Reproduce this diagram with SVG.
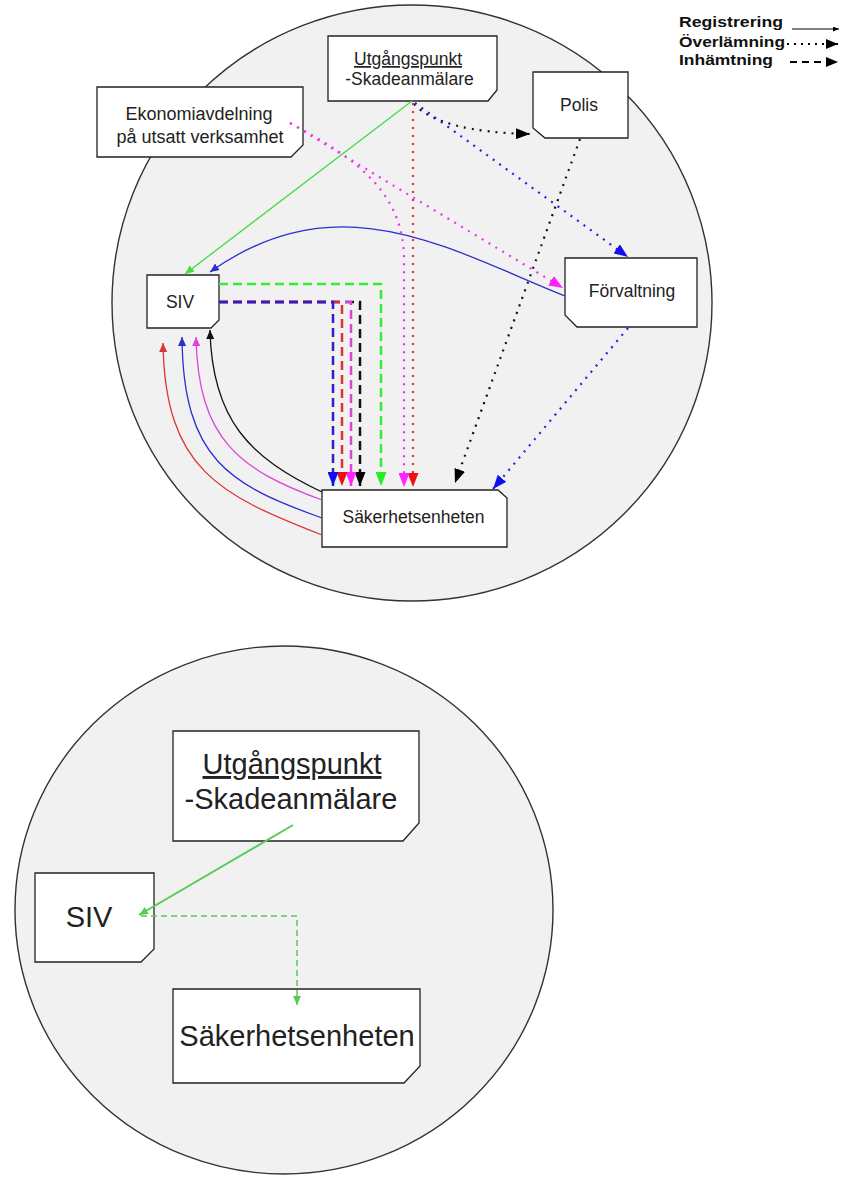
<svg xmlns="http://www.w3.org/2000/svg" width="843" height="1180" viewBox="0 0 843 1180">
<style>
text{font-family:"Liberation Sans",Arial,sans-serif;fill:#222}
.bg{fill:#f1f1f1;stroke:#333;stroke-width:1.4}
.box{fill:#fff;stroke:#222;stroke-width:1.3}
.t{font-size:17.5px;text-anchor:middle}
.tb{font-size:29px;text-anchor:middle}
.leg{font-size:15.5px;font-weight:bold;fill:#111}
.c{fill:none}
.sol{stroke-width:1.3}
.dot{stroke-width:2.2;stroke-dasharray:2 6}
.dash{stroke-width:2.5;stroke-dasharray:9 5}
</style>
<defs>
<marker id="sG" markerUnits="userSpaceOnUse" markerWidth="9" markerHeight="8" refX="9" refY="4" orient="auto"><path d="M0,0 L9,4 L0,8 z" fill="#44dd44"/></marker>
<marker id="sB" markerUnits="userSpaceOnUse" markerWidth="9" markerHeight="8" refX="9" refY="4" orient="auto"><path d="M0,0 L9,4 L0,8 z" fill="#2e2ed0"/></marker>
<marker id="sR" markerUnits="userSpaceOnUse" markerWidth="9" markerHeight="8" refX="9" refY="4" orient="auto"><path d="M0,0 L9,4 L0,8 z" fill="#dd3333"/></marker>
<marker id="sM" markerUnits="userSpaceOnUse" markerWidth="9" markerHeight="8" refX="9" refY="4" orient="auto"><path d="M0,0 L9,4 L0,8 z" fill="#e040e0"/></marker>
<marker id="sK" markerUnits="userSpaceOnUse" markerWidth="9" markerHeight="8" refX="9" refY="4" orient="auto"><path d="M0,0 L9,4 L0,8 z" fill="#111"/></marker>
<marker id="lG" markerUnits="userSpaceOnUse" markerWidth="14" markerHeight="11" refX="14" refY="5.5" orient="auto"><path d="M0,0 L14,5.5 L0,11 z" fill="#22ee22"/></marker>
<marker id="lB" markerUnits="userSpaceOnUse" markerWidth="14" markerHeight="11" refX="14" refY="5.5" orient="auto"><path d="M0,0 L14,5.5 L0,11 z" fill="#1010ee"/></marker>
<marker id="lR" markerUnits="userSpaceOnUse" markerWidth="14" markerHeight="11" refX="14" refY="5.5" orient="auto"><path d="M0,0 L14,5.5 L0,11 z" fill="#ee1111"/></marker>
<marker id="lM" markerUnits="userSpaceOnUse" markerWidth="14" markerHeight="11" refX="14" refY="5.5" orient="auto"><path d="M0,0 L14,5.5 L0,11 z" fill="#ff22ff"/></marker>
<marker id="lK" markerUnits="userSpaceOnUse" markerWidth="14" markerHeight="11" refX="14" refY="5.5" orient="auto"><path d="M0,0 L14,5.5 L0,11 z" fill="#000"/></marker>
<marker id="gS" markerUnits="userSpaceOnUse" markerWidth="9" markerHeight="8" refX="9" refY="4" orient="auto"><path d="M0,0 L9,4 L0,8 z" fill="#55cc55"/></marker>
<marker id="legA" markerUnits="userSpaceOnUse" markerWidth="6" markerHeight="5" refX="6" refY="2.5" orient="auto"><path d="M0,0 L6,2.5 L0,5 z" fill="#000"/></marker>
<marker id="legB" markerUnits="userSpaceOnUse" markerWidth="12" markerHeight="10" refX="12" refY="5" orient="auto"><path d="M0,0 L12,5 L0,10 z" fill="#000"/></marker>
</defs>
<rect width="843" height="1180" fill="#fff"/>

<g id="circles">
<ellipse class="bg" cx="412" cy="303" rx="300" ry="298"/>
<ellipse class="bg" cx="284" cy="910" rx="269" ry="264"/>
</g>

<g id="legend">
<text class="leg" x="679" y="27" textLength="104" lengthAdjust="spacingAndGlyphs">Registrering</text>
<text class="leg" x="679" y="47" textLength="106" lengthAdjust="spacingAndGlyphs">Överlämning</text>
<text class="leg" x="679" y="65" textLength="94" lengthAdjust="spacingAndGlyphs">Inhämtning</text>
<path d="M792,29 L839,29" stroke="#000" stroke-width="1" marker-end="url(#legA)"/>
<path d="M787,44 L838,44" stroke="#000" stroke-width="2" stroke-dasharray="2 5" marker-end="url(#legB)"/>
<path d="M790,62 L838,62" stroke="#000" stroke-width="2" stroke-dasharray="7 5" marker-end="url(#legB)"/>
</g>

<g id="top-utgangspunkt">
<path class="box" d="M328,36 H497 V90 L488,101 H328 Z"/>
<text class="t" x="408" y="65" text-decoration="underline">Utgångspunkt</text>
<text class="t" x="409.5" y="85">-Skadeanmälare</text>
</g>
<g id="top-ekonomi">
<path class="box" d="M97,87 H303 V145 L291,157 H97 Z"/>
<text class="t" x="199" y="120" style="font-size:18px">Ekonomiavdelning</text>
<text class="t" x="200" y="143" style="font-size:18px">på utsatt verksamhet</text>
</g>
<g id="top-polis">
<path class="box" d="M533,72 H628 V138 H545 L533,128 Z"/>
<text class="t" x="579" y="111">Polis</text>
</g>
<g id="top-forvaltning">
<path class="box" d="M565,258 H697 V327 H577 L565,315 Z"/>
<text class="t" x="632" y="297">Förvaltning</text>
</g>
<g id="top-siv">
<path class="box" d="M147,275 H219 V320 L211,328 H147 Z"/>
<text class="t" x="180" y="308">SIV</text>
</g>
<g id="top-sakerhet">
<path class="box" d="M322,490 H498 L507,498 V547 H322 Z"/>
<text class="t" x="413.5" y="523">Säkerhetsenheten</text>
</g>

<g id="bottom-utgangspunkt">
<path class="box" d="M173,731 H419 V823 L403,841 H173 Z"/>
<text class="tb" x="292" y="774" text-decoration="underline">Utgångspunkt</text>
<text class="tb" x="291" y="809">-Skadeanmälare</text>
</g>
<g id="bottom-siv">
<path class="box" d="M35,873 H154 V949 L141,962 H35 Z"/>
<text class="tb" x="89" y="927">SIV</text>
</g>
<g id="bottom-sakerhet">
<path class="box" d="M173,989 H420 V1066 L404,1083 H173 Z"/>
<text class="tb" x="297" y="1046">Säkerhetsenheten</text>
</g>

<g id="connectors">
<path class="c sol" d="M412,101 L185,274" stroke="#44dd44" marker-end="url(#sG)"/>
<path class="c sol" d="M565,296 C450,250 340,180 210,272" stroke="#2e2ed0" marker-end="url(#sB)"/>
<path class="c dot" d="M414,104 Q440,132 530,134" stroke="#111" marker-end="url(#lK)"/>
<path class="c dot" d="M415,103 L628,257" stroke="#2222dd" marker-end="url(#lB)"/>
<path class="c dot" d="M413,103 L413,487" stroke="#e53333" marker-end="url(#lR)"/>
<path class="c dot" d="M290,123 L563,288" stroke="#ee33ee" marker-end="url(#lM)"/>
<path class="c dot" d="M290,123 C360,160 404,195 404,260 L404,487" stroke="#ee33ee" marker-end="url(#lM)"/>
<path class="c dot" d="M580,139 L455,483" stroke="#111" marker-end="url(#lK)"/>
<path class="c dot" d="M628,328 L493,489" stroke="#2222dd" marker-end="url(#lB)"/>
<path class="c dash" d="M219,284 L381,284 L381,486" stroke="#33ee33" marker-end="url(#lG)"/>
<path class="c dash" d="M219,302 L360,302 L360,486" stroke="#111" marker-end="url(#lK)"/>
<path class="c dash" d="M219,302 L351,302 L351,486" stroke="#e040e0" marker-end="url(#lM)"/>
<path class="c dash" d="M219,302 L342,302 L342,486" stroke="#dd3333" marker-end="url(#lR)"/>
<path class="c dash" d="M219,302 L333,302 L333,486" stroke="#2a1fc8" marker-end="url(#lB)"/>
<path class="c sol" d="M322,492 C250,458 212,420 210,330" stroke="#111" marker-end="url(#sK)"/>
<path class="c sol" d="M322,500 C240,470 198,440 196,337" stroke="#e040e0" marker-end="url(#sM)"/>
<path class="c sol" d="M322,518 C230,485 183,460 182,337" stroke="#2e2ed0" marker-end="url(#sB)"/>
<path class="c sol" d="M322,535 C220,495 165,470 163,343" stroke="#dd3333" marker-end="url(#sR)"/>
<path class="c" d="M293,825 L139,915" stroke="#55cc55" stroke-width="2" marker-end="url(#gS)"/>
<path class="c" d="M141,916 L297,916 L297,1005" stroke="#55cc55" stroke-width="1.5" stroke-dasharray="6 4" marker-end="url(#gS)"/>
</g>
</svg>
